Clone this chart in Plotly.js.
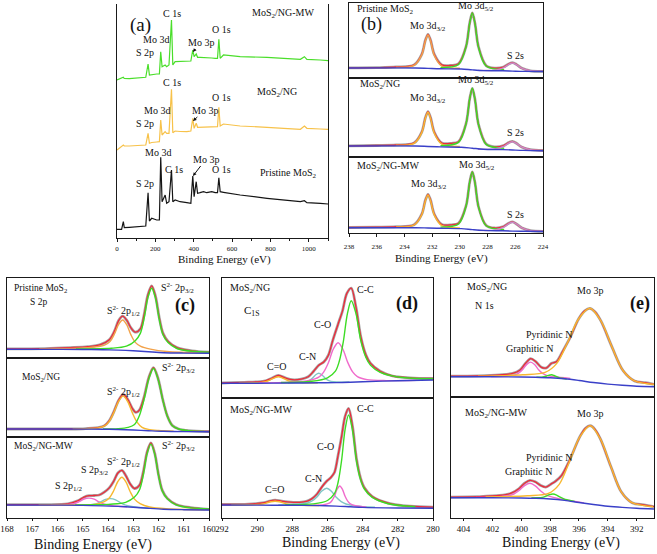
<!DOCTYPE html>
<html><head><meta charset="utf-8">
<script src="https://cdn.plot.ly/plotly-3.0.1.min.js"></script>
<style>html,body{margin:0;padding:0;background:#fff}#chart{width:657px;height:554px}</style>
</head><body><div id="chart"></div>
<script>
// ---------- (a) survey spectra (binding energy eV, intensity a.u.) ----------
const surveyEnergy = [0, 24, 33, 38, 64, 150, 162, 169, 181, 207, 221, 228, 235, 251, 259, 271, 284, 291, 303, 329, 364, 385, 395, 402, 413, 420, 433, 451, 468, 494, 512, 524, 531, 538, 555, 642, 782, 956, 977, 990, 1060, 1100];
const surveyPristine = [8.7, 8.7, 16.3, 10.3, 10.7, 12, 45.3, 17, 19.7, 18, 18, 80.7, 36.3, 43, 34.7, 36.3, 68, 36.3, 38, 36.3, 35.3, 34.7, 62, 41.3, 56.3, 44.7, 45.3, 46.3, 45.3, 46.3, 45.3, 45.3, 60.3, 46.3, 45.7, 43, 39.7, 36.3, 37.3, 35.3, 34.7, 34];
const surveyNG = [88, 91.3, 93, 92, 92, 93, 104.7, 94.7, 95.5, 96, 96.3, 118, 103, 106.3, 104.7, 104.7, 148.7, 105.3, 107, 106.5, 106.3, 107, 119.7, 109.7, 114.7, 110.7, 110.7, 110.7, 110.7, 111, 111.3, 111.3, 130.7, 112, 114, 112, 110.7, 108.7, 112, 109.7, 109, 108.7];
const surveyMW = [158, 159.7, 160.7, 159.5, 159.3, 160.7, 174, 163, 163.5, 164, 164, 186.3, 171.3, 173, 171.3, 173, 218, 173, 176.3, 176.5, 177, 177, 188, 181.3, 184, 180.7, 180.7, 180.7, 180.7, 180, 179.7, 179.7, 198.7, 179.7, 183, 181.3, 180.7, 178.7, 181.3, 178.7, 178, 177.3];

// ---------- (b) Mo 3d ----------
const moBgX = [238, 233.2, 232.3, 231.4, 229.9, 229.1, 228.3, 226.9, 226.2, 225.4, 224];
const moBg1 = [10, 10, 9.6, 9.2, 9.0, 8.1, 7.4, 7.2, 6.9, 6.6, 6.5];
const moBg2 = [11, 11, 10.5, 10.1, 9.8, 8.8, 7.8, 7.4, 7.0, 6.6, 6.3];
const moBg3 = [5.3, 5.3, 5.0, 4.7, 4.4, 3.4, 2.6, 2.2, 1.9, 1.7, 1.5];
const mo32X = [234.6, 233.3, 232.75, 232.49, 232.3, 232.11, 231.85, 231.3, 230.0];
const mo32Y1 = [10.7, 12.7, 23.2, 37.1, 43.0, 36.9, 22.8, 11.9, 9.7];
const mo32Y2 = [11.7, 13.7, 24.4, 38.6, 44.7, 38.4, 24.0, 12.8, 10.6];
const mo32Y3 = [6.0, 8.0, 18.3, 32.1, 38.0, 32.0, 18.1, 7.3, 5.1];
const mo52X = [231.4, 230.1, 229.55, 229.29, 229.1, 228.91, 228.65, 228.1, 226.8];
const mo52Y1 = [10.3, 13.5, 31.4, 54.9, 65.0, 54.6, 30.6, 12.0, 8.2];
const mo52Y2 = [11.3, 14.6, 33.4, 58.2, 68.7, 57.7, 32.3, 12.6, 8.7];
const mo52Y3 = [5.9, 9.0, 27.0, 50.9, 61.0, 50.4, 26.0, 7.2, 3.5];
const s2sX = [228.7, 227.5, 226.85, 226.48, 226.2, 225.92, 225.55, 224.9, 223.7];
const s2sY1 = [7.6, 7.8, 10.2, 13.5, 15.0, 13.4, 9.9, 7.2, 6.7];
const s2sY2 = [7.7, 8.0, 10.5, 13.9, 15.3, 13.7, 10.1, 7.3, 6.5];
const s2sY3 = [2.6, 2.9, 5.6, 9.2, 10.7, 9.1, 5.3, 2.4, 1.7];
const moEnvX = [238, 236, 234.6, 233.3, 232.75, 232.49, 232.3, 232.11, 231.85, 231.3, 230.6, 230.1, 229.55, 229.29, 229.1, 228.91, 228.65, 228.1, 227.5, 226.85, 226.48, 226.2, 225.92, 225.55, 224.9, 224];
const moEnv1 = [10.2, 10.4, 11.0, 13.1, 23.7, 37.7, 43.7, 37.7, 23.8, 13.1, 12.6, 14.2, 31.7, 55.1, 65.2, 54.8, 30.8, 12.3, 9.9, 11.0, 14.0, 15.4, 13.6, 9.9, 7.2, 6.7];
const moEnv2 = [11.2, 11.5, 12.0, 14.1, 24.9, 39.2, 45.4, 39.2, 25.0, 14.0, 13.7, 15.3, 33.7, 58.2, 68.7, 57.7, 32.3, 12.9, 10.2, 11.4, 14.4, 15.7, 13.7, 10.1, 7.3, 6.5];
const moEnv3 = [5.5, 5.8, 6.3, 8.3, 18.8, 32.7, 38.7, 32.8, 19.0, 8.5, 8.2, 9.7, 27.3, 50.9, 61.0, 50.4, 26.0, 7.5, 5.0, 6.5, 9.7, 11.1, 9.05, 5.3, 2.4, 1.7];

// ---------- (c) S 2p ----------
const s2pBgX = [168, 166, 165, 164.2, 163.6, 163.0, 162.4, 161.8, 161, 160];
const s2pBg1 = [8.7, 8.6, 8.5, 8.3, 7.9, 7.2, 6.2, 5.3, 4.9, 4.7];
const s2pBg2 = [8.0, 8.0, 7.9, 7.8, 7.5, 7.0, 6.3, 5.7, 5.4, 5.3];
const s2pBg3 = [13, 12.9, 12.6, 12.1, 11.6, 10.8, 9.7, 8.8, 8.3, 8.0];
const p32X1 = [165.27, 163.87, 163.27, 162.92, 162.72, 162.57, 162.42, 162.27, 162.12, 161.97, 161.82, 161.62, 161.27, 160.67, 159.27];
const p32Y1 = [9.1, 9.7, 11.8, 17.3, 24.6, 39.7, 60.4, 69.8, 60.0, 38.7, 23.2, 15.4, 9.5, 6.7, 5.3];
const p12X1 = [166.72, 165.17, 164.52, 164.14, 163.92, 163.75, 163.58, 163.42, 163.26, 163.09, 162.92, 162.70, 162.32, 161.67, 160.12];
const p12Y1 = [9.0, 9.7, 11.0, 12.9, 16.5, 23.7, 33.6, 38.0, 33.3, 23.1, 15.6, 11.6, 8.9, 6.5, 5.2];
const s2pEnvX1 = [168, 166.5, 165.5, 164.8, 164.3, 163.95, 163.75, 163.58, 163.42, 163.26, 163.09, 162.92, 162.72, 162.57, 162.42, 162.27, 162.12, 161.97, 161.82, 161.62, 161.27, 160.67, 160];
const s2pEnv1 = [9.2, 9.4, 10.3, 11.3, 13.4, 18.3, 26.6, 37.4, 41.8, 37.8, 30.1, 25.8, 29.1, 43.3, 63.1, 72.1, 61.9, 40.3, 24.6, 16.6, 10.4, 7.2, 5.8];
const p32X2 = [164.2, 163.6, 163.2, 162.95, 162.75, 162.57, 162.38, 162.2, 162.02, 161.83, 161.65, 161.45, 161.2, 160.8, 160.2];
const p32Y2 = [8.1, 8.4, 9.7, 12.6, 21.8, 37.8, 58.6, 68.5, 58.3, 37.1, 20.8, 11.3, 8.0, 6.3, 5.6];
const p12X2 = [165.4, 164.8, 164.4, 164.15, 163.95, 163.77, 163.58, 163.4, 163.22, 163.03, 162.85, 162.65, 162.4, 162.0, 161.4];
const p12Y2 = [8.1, 8.4, 9.1, 10.8, 15.7, 24.4, 35.6, 40.9, 35.4, 23.9, 14.9, 9.7, 7.6, 6.5, 5.8];
const s2pEnvX2 = [168, 166, 165, 164.4, 164.15, 163.95, 163.77, 163.58, 163.4, 163.22, 163.03, 162.9, 162.75, 162.57, 162.38, 162.2, 162.02, 161.83, 161.65, 161.45, 161.2, 160.8, 160];
const s2pEnv2 = [8.0, 8.0, 8.2, 9.3, 11.1, 16.3, 25.2, 36.6, 42.6, 37.8, 28.3, 24.6, 27.2, 40.1, 59.9, 69.4, 58.8, 37.4, 21.0, 11.4, 8.0, 6.3, 5.5];
const p32X3 = [165.3, 163.9, 163.3, 162.95, 162.75, 162.6, 162.45, 162.3, 162.15, 162.0, 161.85, 161.65, 161.3, 160.7, 159.3];
const p32Y3 = [13.1, 13.8, 15.7, 20.9, 28.3, 43.5, 64.4, 73.9, 64.0, 42.7, 27.1, 19.2, 13.2, 10.1, 8.6];
const p12X3 = [166.75, 165.2, 164.55, 164.17, 163.95, 163.78, 163.61, 163.45, 163.29, 163.12, 162.95, 162.73, 162.35, 161.7, 160.15];
const p12Y3 = [13.1, 13.0, 13.6, 16.2, 20.1, 27.0, 36.5, 40.7, 36.1, 26.2, 18.9, 14.4, 11.0, 9.2, 8.2];
const oxP32X = [165.4, 164.8, 164.5, 164.3, 164.1, 163.9, 163.7, 163.5, 163.3, 163.0, 162.4];
const oxP32Y = [12.7, 12.9, 14.0, 16.0, 18.6, 19.4, 18.2, 15.2, 12.9, 11.3, 9.8];
const oxP12X = [166.25, 165.65, 165.35, 165.15, 164.95, 164.75, 164.55, 164.35, 164.15, 163.85, 163.25];
const oxP12Y = [13.0, 13.2, 14.3, 16.3, 19.0, 19.9, 18.8, 16.0, 13.8, 12.3, 11.2];
const s2pEnvX3 = [168, 166.5, 165.6, 165.2, 164.95, 164.75, 164.55, 164.35, 164.15, 163.95, 163.78, 163.61, 163.45, 163.29, 163.12, 162.95, 162.75, 162.6, 162.45, 162.3, 162.15, 162.0, 161.85, 161.65, 161.3, 160.7, 160];
const s2pEnv3 = [13.4, 13.4, 14.1, 17.1, 20.8, 22.3, 22.5, 23.0, 25.8, 30.1, 36.5, 45.0, 47.7, 42.2, 34.0, 29.5, 32.9, 46.4, 66.2, 75.1, 64.9, 43.4, 27.6, 19.6, 13.5, 10.3, 8.7];

// ---------- (d) C 1s ----------
const c1sBgX = [292, 290, 288, 286.5, 285.5, 284.7, 284, 282, 280];
const c1sBg1 = [14.7, 14.8, 15.0, 15.2, 15.4, 15.8, 16.3, 17.3, 18.0];
const c1sBg2 = [13.0, 12.9, 12.7, 12.4, 11.9, 11.2, 10.6, 10.0, 9.7];
const ccX1 = [288.65, 286.9, 286.0, 285.55, 285.33, 285.1, 284.87, 284.65, 284.38, 284.1, 283.82, 283.55, 283.0, 281.9, 280.0];
const ccY1 = [15.5, 16.7, 20.2, 26.8, 36.7, 56.4, 84.2, 97.3, 84.4, 56.8, 40.7, 32.6, 25.6, 20.8, 19.2];
const coX1 = [289.9, 288.15, 287.05, 286.5, 286.23, 285.95, 285.67, 285.4, 285.13, 284.85, 284.57, 284.3, 283.75, 282.65, 280.9];
const coY1 = [15.1, 15.8, 17.6, 20.8, 25.7, 35.3, 48.9, 55.3, 49.0, 35.6, 26.1, 21.4, 18.4, 17.4, 17.8];
const cnX1 = [288.25, 287.55, 287.2, 287.02, 286.85, 286.67, 286.5, 286.33, 286.15, 285.98, 285.8, 285.45, 284.75];
const cnY1 = [15.2, 15.7, 16.4, 17.6, 20.0, 23.2, 24.7, 23.2, 20.1, 17.8, 16.6, 16.0, 16.0];
const cdoX1 = [291.05, 290.15, 289.7, 289.48, 289.25, 289.02, 288.8, 288.58, 288.35, 288.12, 287.9, 287.45, 286.55];
const cdoY1 = [14.9, 15.2, 15.7, 16.5, 18.1, 20.2, 21.2, 20.2, 18.2, 16.6, 15.9, 15.4, 15.3];
const c1sEnvX1 = [292, 290.5, 289.6, 289.2, 288.8, 288.4, 288.0, 287.5, 287.1, 286.8, 286.5, 286.2, 285.95, 285.7, 285.4, 285.15, 284.9, 284.65, 284.38, 284.1, 283.82, 283.55, 283.0, 282.3, 281.3, 280];
const c1sEnv1 = [15.0, 15.8, 16.9, 19.5, 22.5, 20.1, 18.3, 18.9, 21.2, 26.5, 32.7, 36.3, 42.8, 57.7, 73.8, 86.9, 104.6, 109.9, 90.9, 60.8, 43.3, 34.6, 26.8, 22.0, 20.2, 19.5];
const ccX2 = [288.4, 286.8, 286.0, 285.6, 285.4, 285.2, 285.0, 284.8, 284.58, 284.35, 284.12, 283.9, 283.45, 282.55, 281.0];
const ccY2 = [13.3, 14.1, 17.5, 24.6, 35.5, 57.4, 88.4, 103.0, 88.1, 56.8, 38.4, 29.0, 20.6, 14.3, 11.3];
const coX2 = [286.8, 286.2, 285.9, 285.75, 285.6, 285.45, 285.3, 285.15, 285.0, 284.85, 284.7, 284.4, 283.8];
const coY2 = [12.7, 13.3, 14.8, 17.3, 22.0, 28.9, 32.0, 28.7, 21.7, 16.8, 14.1, 12.2, 11.0];
const cnX2 = [288.8, 287.7, 287.15, 286.88, 286.6, 286.32, 286.05, 285.78, 285.5, 285.22, 284.95, 284.4, 283.3];
const cnY2 = [13.1, 13.7, 15.0, 17.0, 21.1, 27.0, 29.7, 26.8, 20.7, 16.3, 14.0, 12.1, 10.8];
const cdoX2 = [291.48, 290.48, 289.98, 289.73, 289.48, 289.23, 288.98, 288.73, 288.48, 288.23, 287.98, 287.48, 286.48];
const cdoY2 = [13.1, 13.2, 13.5, 13.9, 14.9, 16.2, 16.8, 16.2, 14.8, 13.7, 13.3, 12.8, 12.5];
const c1sEnvX2 = [292, 290.5, 289.6, 289.3, 288.98, 288.6, 288.1, 287.6, 287.2, 286.9, 286.6, 286.3, 286.05, 285.8, 285.6, 285.4, 285.2, 285.0, 284.8, 284.58, 284.35, 284.12, 283.9, 283.45, 282.5, 281.3, 280];
const c1sEnv2 = [13.5, 13.8, 15.3, 16.9, 17.9, 16.9, 15.8, 15.7, 16.6, 19.1, 23.9, 31.5, 36.7, 40.7, 45.8, 62.4, 81.3, 101.6, 109.6, 91.9, 59.2, 39.9, 30.2, 21.4, 14.7, 11.8, 10.8];

// ---------- (e) N 1s / Mo 3p ----------
const n1sBgX = [405, 402, 400, 399, 398, 397, 396, 395, 394, 393, 392, 390.8];
const n1sBg1 = [20.3, 20.2, 20.0, 19.7, 19.2, 18.2, 16.5, 14.5, 12.9, 11.7, 10.8, 10.3];
const n1sBg2 = [20.3, 20.2, 20.0, 19.7, 19.0, 17.6, 15.5, 13.5, 11.8, 10.6, 9.7, 9.0];
const mo3pX1 = [403.0, 399.9, 398.35, 397.55, 396.8, 396.03, 395.25, 394.47, 393.7, 392.95, 392.15, 390.6];
const mo3pY1 = [20.9, 22.2, 24.6, 33.4, 54.2, 78.0, 88.7, 75.8, 49.6, 26.5, 16.1, 12.4];
const grNX1 = [402.1, 401.0, 400.45, 400.18, 399.9, 399.62, 399.35, 399.08, 398.8, 398.52, 398.25, 397.7, 396.6];
const grNY1 = [20.5, 21.0, 22.2, 23.9, 27.5, 32.6, 34.9, 32.5, 27.3, 23.6, 21.7, 20.2, 18.6];
const pyNX1 = [398.95, 398.6, 398.42, 398.25, 398.07, 397.9, 397.73, 397.55, 397.38, 397.2, 396.85];
const pyNY1 = [19.9, 19.9, 20.2, 20.9, 21.8, 22.2, 21.5, 20.3, 19.4, 18.7, 17.9];
const n1sEnvX1 = [404.9, 403, 401.5, 400.6, 400.1, 399.7, 399.35, 399.0, 398.6, 398.25, 397.9, 397.55, 397.1, 396.6, 396.03, 395.6, 395.25, 394.9, 394.47, 393.7, 392.95, 392.15, 391.4, 390.8];
const n1sEnv1 = [20.8, 21.1, 22.1, 23.6, 26.8, 33.8, 38.3, 35.4, 29.7, 29.2, 33.7, 35.5, 46.4, 59.8, 78.0, 86.2, 88.7, 85.3, 75.8, 49.6, 26.5, 16.1, 14.3, 12.7];
const mo3pX2 = [402.47, 399.57, 398.12, 397.37, 396.67, 395.94, 395.22, 394.5, 393.77, 393.07, 392.32, 390.87];
const mo3pY2 = [21.0, 22.2, 24.6, 33.7, 56.0, 81.1, 92.3, 78.6, 50.7, 26.2, 15.3, 11.3];
const grNX2 = [403.15, 401.65, 400.9, 400.52, 400.15, 399.77, 399.4, 399.03, 398.65, 398.28, 397.9, 397.15, 395.65];
const grNY2 = [20.6, 21.1, 22.2, 24.0, 27.5, 32.4, 34.7, 32.2, 27.0, 23.1, 21.1, 18.7, 15.1];
const pyNX2 = [399.3, 398.8, 398.55, 398.3, 398.05, 397.8, 397.55, 397.3, 397.05, 396.8, 396.3];
const pyNY2 = [20.0, 20.2, 20.6, 21.8, 23.3, 24.0, 22.9, 20.8, 19.1, 18.1, 16.6];
const n1sEnvX2 = [404.9, 403, 401.5, 400.7, 400.15, 399.77, 399.4, 399.03, 398.65, 398.3, 397.95, 397.6, 397.2, 396.67, 395.94, 395.55, 395.22, 394.9, 394.5, 393.77, 393.07, 392.32, 391.5, 390.8];
const n1sEnv2 = [20.9, 21.3, 22.5, 24.8, 29.5, 34.8, 37.7, 36.2, 32.5, 30.9, 33.8, 37.1, 42.7, 57.2, 81.3, 89.8, 92.3, 88.7, 78.6, 50.7, 26.2, 15.3, 13.1, 11.3];

// ---------- layout helpers ----------
const W = 657, H = 554;
const FONT = '"Liberation Serif", "Times New Roman", "DejaVu Serif", serif';
const C = {green:'#3cdc24', orange:'#f2a24a', yellow:'#f7b830', red:'#ee2a3a', blue:'#3a40c8',
           pink:'#f06ccc', teal:'#80c6c6', gray:'#a6a6a6', black:'#151515', surveyY:'#f7c24a', surveyG:'#4ade2a'};
const layout = {width:W, height:H, margin:{l:0,r:0,t:0,b:0,pad:0}, paper_bgcolor:'#fff',
  plot_bgcolor:'rgba(0,0,0,0)', showlegend:false, font:{family:FONT, color:'#111', size:10},
  annotations:[], hovermode:false};
const traces = [];

function axisPair(n, left, right, top, bottom, xr, yr, xopts, yopts) {
  const s = n === 1 ? '' : String(n);
  layout['xaxis' + s] = Object.assign({domain:[left / W, right / W], range:xr, anchor:'y' + s, showline:true,
    linecolor:'#1a1a1a', linewidth:1.2, mirror:true, showgrid:false, zeroline:false, showticklabels:false,
    ticks:'', fixedrange:true}, xopts || {});
  layout['yaxis' + s] = Object.assign({domain:[1 - bottom / H, 1 - top / H], range:yr, anchor:'x' + s,
    showline:true, linecolor:'#1a1a1a', linewidth:1.2, mirror:true, showgrid:false, zeroline:false,
    showticklabels:false, ticks:'', fixedrange:true}, yopts || {});
}
function line(n, x, y, color, width, shape) {
  const s = n === 1 ? '' : String(n);
  traces.push({type:'scatter', mode:'lines', x:x, y:y, xaxis:'x' + s, yaxis:'y' + s,
    line:{color:color, width:width || 1.3, shape:shape || 'spline', smoothing:0.9},
    hoverinfo:'skip', showlegend:false});
}
function sub(n, envX, envY, comps, bgX, bgY) {
  line(n, envX, envY, C.gray, 2.8);
  line(n, envX, envY, C.red, 1.3);
  comps.forEach(c => line(n, c[0], c[1], c[2], 1.4));
  line(n, bgX, bgY, C.blue, 1.4);
}
function ann(text, px, py, size, opts) {
  layout.annotations.push(Object.assign({xref:'paper', yref:'paper', x:px / W, y:1 - py / H, text:text,
    showarrow:false, xanchor:'center', yanchor:'middle', font:{family:FONT, size:size || 10, color:'#111'}}, opts || {}));
}
function arrowAnn(text, tipX, tipY, txtX, txtY) {
  layout.annotations.push({xref:'paper', yref:'paper', x:tipX / W, y:1 - tipY / H, text:text, showarrow:true,
    ax:txtX - tipX, ay:txtY - tipY, arrowhead:2, arrowsize:0.7, arrowwidth:1, arrowcolor:'#111', standoff:0,
    font:{family:FONT, size:10, color:'#111'}});
}
const tickSmall = {family:FONT, size:7, color:'#111'};
const tickBig = {family:FONT, size:9, color:'#111'};

// ---------- (a) ----------
axisPair(1, 117, 328, 4, 238, [0, 1100], [0, 234],
  {mirror:false, showticklabels:true, ticks:'outside', ticklen:3, tickwidth:1, tickcolor:'#1a1a1a',
   tickmode:'linear', tick0:0, dtick:200, tickfont:tickSmall,
   minor:{ticks:'outside', ticklen:2, dtick:100, tickcolor:'#1a1a1a'}});
line(1, surveyEnergy, surveyPristine, C.black, 1.2, 'linear');
line(1, surveyEnergy, surveyNG, C.surveyY, 1.2, 'linear');
line(1, surveyEnergy, surveyMW, C.surveyG, 1.2, 'linear');

// ---------- (b) ----------
axisPair(2, 349, 543, 3, 78, [238, 224], [0, 75]);
axisPair(3, 349, 543, 78, 157, [238, 224], [0, 79]);
axisPair(4, 349, 543, 157, 233, [238, 224], [0, 76],
  {showticklabels:true, ticks:'outside', ticklen:3, tickwidth:1, tickcolor:'#1a1a1a', tickmode:'linear',
   tick0:224, dtick:2, tickfont:tickSmall, ticklabelstandoff:3});
sub(2, moEnvX, moEnv1, [[mo32X, mo32Y1, C.orange], [mo52X, mo52Y1, C.green], [s2sX, s2sY1, '#c88ac8']], moBgX, moBg1);
sub(3, moEnvX, moEnv2, [[mo32X, mo32Y2, C.yellow], [mo52X, mo52Y2, C.green], [s2sX, s2sY2, '#c88ac8']], moBgX, moBg2);
sub(4, moEnvX, moEnv3, [[mo32X, mo32Y3, C.yellow], [mo52X, mo52Y3, C.green], [s2sX, s2sY3, '#c88ac8']], moBgX, moBg3);

// ---------- (c) ----------
axisPair(5, 7, 209, 278, 358, [168, 160], [0, 80]);
axisPair(6, 7, 209, 358, 437, [168, 160], [0, 79]);
axisPair(7, 7, 209, 437, 518, [168, 160], [0, 81],
  {showticklabels:true, ticks:'outside', ticklen:2, tickwidth:1, tickcolor:'#1a1a1a', tickmode:'linear',
   tick0:160, dtick:1, tickfont:tickBig});
sub(5, s2pEnvX1, s2pEnv1, [[p12X1, p12Y1, C.orange], [p32X1, p32Y1, C.green]], s2pBgX, s2pBg1);
sub(6, s2pEnvX2, s2pEnv2, [[p12X2, p12Y2, C.yellow], [p32X2, p32Y2, C.green]], s2pBgX, s2pBg2);
sub(7, s2pEnvX3, s2pEnv3, [[oxP12X, oxP12Y, C.pink], [oxP32X, oxP32Y, C.teal], [p12X3, p12Y3, C.yellow], [p32X3, p32Y3, C.green]], s2pBgX, s2pBg3);

// ---------- (d) ----------
axisPair(8, 222, 433, 278, 398, [292, 280], [0, 120]);
axisPair(9, 222, 433, 398, 518, [292, 280], [0, 120],
  {showticklabels:true, ticks:'outside', ticklen:2, tickwidth:1, tickcolor:'#1a1a1a', tickmode:'linear',
   tick0:280, dtick:2, tickfont:tickBig});
sub(8, c1sEnvX1, c1sEnv1, [[cdoX1, cdoY1, C.yellow], [cnX1, cnY1, C.teal], [coX1, coY1, C.pink], [ccX1, ccY1, C.green]], c1sBgX, c1sBg1);
sub(9, c1sEnvX2, c1sEnv2, [[cdoX2, cdoY2, C.yellow], [cnX2, cnY2, C.teal], [coX2, coY2, C.pink], [ccX2, ccY2, C.green]], c1sBgX, c1sBg2);

// ---------- (e) ----------
axisPair(10, 451, 654, 278, 397, [404.87, 390.8], [0, 119]);
axisPair(11, 451, 654, 397, 518, [404.87, 390.8], [0, 121],
  {showticklabels:true, ticks:'outside', ticklen:2, tickwidth:1, tickcolor:'#1a1a1a', tickmode:'linear',
   tick0:392, dtick:2, tickfont:tickBig});
sub(10, n1sEnvX1, n1sEnv1, [[grNX1, grNY1, C.pink], [pyNX1, pyNY1, C.green], [mo3pX1, mo3pY1, C.yellow]], n1sBgX, n1sBg1);
sub(11, n1sEnvX2, n1sEnv2, [[grNX2, grNY2, C.pink], [pyNX2, pyNY2, C.green], [mo3pX2, mo3pY2, C.yellow]], n1sBgX, n1sBg2);

// ---------- labels ----------
// (a)
ann('(a)', 140, 25, 19);
ann('MoS<sub>2</sub>/NG-MW', 283, 13, 10);
ann('C 1s', 172, 13, 10);
ann('Mo 3d', 156, 39, 10);
ann('S 2p', 145, 52, 10);
ann('O 1s', 221, 30, 10);
arrowAnn('Mo 3p', 193, 52, 201, 42);
ann('C 1s', 172, 82, 10);
ann('MoS<sub>2</sub>/NG', 277, 92, 10);
ann('Mo 3d', 157, 111, 10);
ann('S 2p', 145, 124, 10);
ann('O 1s', 221, 98, 10);
arrowAnn('Mo 3p', 193, 121, 205, 110);
ann('Mo 3d', 158, 153, 10);
ann('C 1s', 174, 169, 10);
ann('O 1s', 221, 169, 10);
ann('S 2p', 145, 183, 10);
arrowAnn('Mo 3p', 193, 176, 206, 159);
ann('Pristine MoS<sub>2</sub>', 288, 173, 10);
ann('Binding Energy (eV)', 224, 259, 11);
// (b)
ann('Pristine MoS<sub>2</sub>', 355, 9, 10, {xanchor:'left'});
ann('(b)', 371, 25, 18);
ann('Mo 3d<sub>3/2</sub>', 428, 26, 10);
ann('Mo 3d<sub>5/2</sub>', 476, 7, 10);
ann('S 2s', 515, 56, 10);
ann('MoS<sub>2</sub>/NG', 358, 85, 10, {xanchor:'left'});
ann('Mo 3d<sub>3/2</sub>', 428, 99, 10);
ann('Mo 3d<sub>5/2</sub>', 476, 80, 10);
ann('S 2s', 515, 133, 10);
ann('MoS<sub>2</sub>/NG-MW', 355, 166, 10, {xanchor:'left'});
ann('Mo 3d<sub>3/2</sub>', 429, 184, 10);
ann('Mo 3d<sub>5/2</sub>', 477, 165, 10);
ann('S 2s', 515, 215, 10);
ann('Binding Energy (eV)', 441, 258, 11);
// (c)
ann('Pristine MoS<sub>2</sub>', 12, 288, 9.5, {xanchor:'left'});
ann('S 2p', 28, 302, 9.5, {xanchor:'left'});
ann('S<sup>2-</sup> 2p<sub>3/2</sub>', 177, 288, 10);
ann('<b>(c)</b>', 185, 305, 18);
ann('S<sup>2-</sup> 2p<sub>1/2</sub>', 123, 311, 10);
ann('MoS<sub>2</sub>/NG', 20, 377, 9.5, {xanchor:'left'});
ann('S<sup>2-</sup> 2p<sub>3/2</sub>', 178, 368, 10);
ann('S<sup>2-</sup> 2p<sub>1/2</sub>', 123, 392, 10);
ann('MoS<sub>2</sub>/NG-MW', 12, 446, 9.5, {xanchor:'left'});
ann('S<sup>2-</sup> 2p<sub>3/2</sub>', 178, 446, 10);
ann('S<sup>2-</sup> 2p<sub>1/2</sub>', 123, 462, 10);
ann('S 2p<sub>3/2</sub>', 95, 470, 10);
ann('S 2p<sub>1/2</sub>', 69, 487, 10);
ann('Binding Energy (eV)', 93, 545, 14);
// (d)
ann('MoS<sub>2</sub>/NG', 228, 288, 10, {xanchor:'left'});
ann('C<sub>1S</sub>', 242, 311, 11, {xanchor:'left'});
ann('<b>(d)</b>', 407, 303, 18);
ann('C-C', 365, 289, 10);
ann('C-O', 322, 324, 10);
ann('C-N', 307, 356, 10);
ann('C=O', 277, 366, 10);
ann('MoS<sub>2</sub>/NG-MW', 228, 410, 10, {xanchor:'left'});
ann('C-C', 365, 408, 10);
ann('C-O', 325, 446, 10);
ann('C-N', 313, 478, 10);
ann('C=O', 275, 489, 10);
ann('Binding Energy (eV)', 341, 543, 14);
// (e)
ann('MoS<sub>2</sub>/NG', 465, 287, 10, {xanchor:'left'});
ann('N 1s', 473, 305, 10, {xanchor:'left'});
ann('Mo 3p', 590, 290, 10);
ann('<b>(e)</b>', 640, 303, 18);
ann('Pyridinic N', 549, 334, 10);
ann('Graphitic N', 530, 348, 10);
ann('MoS<sub>2</sub>/NG-MW', 463, 413, 10, {xanchor:'left'});
ann('Mo 3p', 590, 413, 10);
ann('Pyridinic N', 549, 457, 10);
ann('Graphitic N', 529, 471, 10);
ann('Binding Energy (eV)', 561, 543, 14);

Plotly.newPlot('chart', traces, layout, {staticPlot:true, displayModeBar:false});
</script>
</body></html>
